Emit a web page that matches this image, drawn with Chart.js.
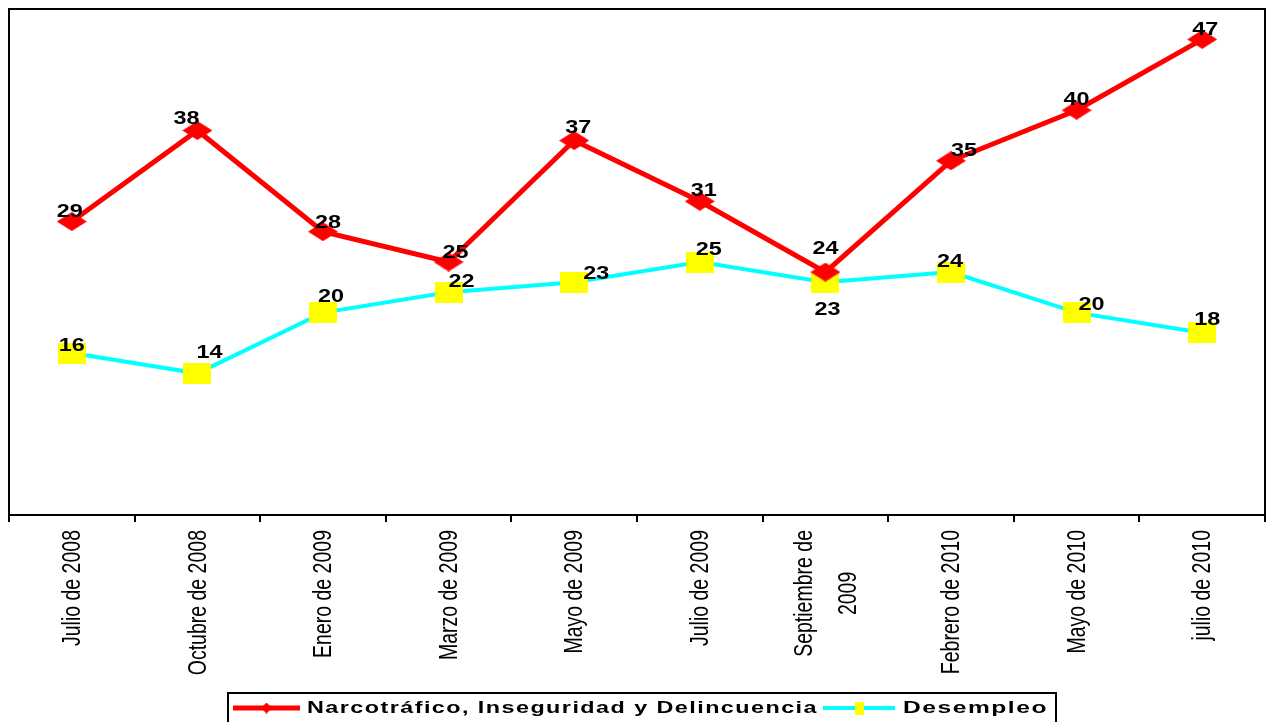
<!DOCTYPE html>
<html>
<head>
<meta charset="utf-8">
<script src="https://cdn.jsdelivr.net/npm/chart.js@4.4.0/dist/chart.umd.min.js"></script>
<style>
  html, body { margin: 0; padding: 0; background: #fff; }
</style>
</head>
<body>
<canvas id="grafica" width="1274" height="722"></canvas>
<script>
// datos
const categorias = ['Julio de 2008', 'Octubre de 2008', 'Enero de 2009', 'Marzo de 2009', 'Mayo de 2009',
  'Julio de 2009', ['Septiembre de', '2009'], 'Febrero de 2010', 'Mayo de 2010', 'julio de 2010'];
const narcotrafico = [29, 38, 28, 25, 37, 31, 24, 35, 40, 47];
const desempleo = [16, 14, 20, 22, 23, 25, 23, 24, 20, 18];
const nombres = ['Narcotráfico, Inseguridad y Delincuencia', 'Desempleo'];

// desplazamiento de las etiquetas respecto al punto (solo estilo)
const despRojo = [[-2, -10], [-11, -12], [5, -10], [7, -10], [4, -14], [4, -11], [0, -24], [13, -11], [0, -11], [3, -10]];
const despCyan = [[0, -8], [12, -21], [8, -17], [13, -11], [22, -9], [9, -13], [2, 27], [-1, -11], [15, -9], [5, -14]];

function marcador(forma, w, h, color) {
  const c = document.createElement('canvas');
  c.width = w; c.height = h;
  const g = c.getContext('2d');
  g.fillStyle = color;
  g.beginPath();
  if (forma === 'rombo') {
    g.moveTo(w / 2, 0); g.lineTo(w, h / 2); g.lineTo(w / 2, h); g.lineTo(0, h / 2);
  } else {
    g.rect(0, 0, w, h);
  }
  g.closePath();
  g.fill();
  return c;
}

const romboRojo = marcador('rombo', 30, 19, '#ff0000');
const cuadroAmarillo = marcador('cuadro', 28, 21, '#ffff00');

// marco del area de trazado
const marco = {
  id: 'marco',
  beforeDatasetsDraw(chart) {
    const a = chart.chartArea, ctx = chart.ctx;
    ctx.save();
    ctx.strokeStyle = '#000';
    ctx.lineWidth = 2;
    ctx.beginPath();
    ctx.moveTo(a.left, a.bottom);
    ctx.lineTo(a.left, a.top);
    ctx.lineTo(a.right, a.top);
    ctx.lineTo(a.right, a.bottom);
    ctx.stroke();
    ctx.restore();
  }
};

// etiquetas del eje x, en vertical y con letra estrecha
const etiquetasX = {
  id: 'etiquetasX',
  afterDraw(chart) {
    const ctx = chart.ctx, xs = chart.scales.x;
    const y0 = chart.chartArea.bottom + 15;
    ctx.save();
    ctx.fillStyle = '#000';
    ctx.font = '26px "Liberation Sans", Arial, sans-serif';
    ctx.textBaseline = 'middle';
    chart.data.labels.forEach((lab, i) => {
      const lineas = Array.isArray(lab) ? lab : [lab];
      const x = xs.getPixelForTick(i);
      const n = lineas.length;
      let largo = 0;
      lineas.forEach(t => { largo = Math.max(largo, ctx.measureText(t).width); });
      lineas.forEach((t, k) => {
        const cx = x + (k - (n - 1) / 2) * 44;
        ctx.save();
        ctx.translate(cx, y0);
        ctx.rotate(-Math.PI / 2);
        ctx.scale(0.75, 1);
        if (n > 1) {
          ctx.textAlign = 'center';
          ctx.fillText(t, -largo / 2, 1);
        } else {
          ctx.textAlign = 'right';
          ctx.fillText(t, 0, 1);
        }
        ctx.restore();
      });
    });
    ctx.restore();
  }
};

// etiquetas de valores
const etiquetas = {
  id: 'etiquetas',
  afterDatasetsDraw(chart) {
    const ctx = chart.ctx;
    const desps = [despRojo, despCyan];
    ctx.save();
    ctx.fillStyle = '#000';
    ctx.font = 'bold 18px "Liberation Sans", Arial, sans-serif';
    ctx.textAlign = 'center';
    ctx.textBaseline = 'middle';
    chart.data.datasets.forEach((ds, d) => {
      chart.getDatasetMeta(d).data.forEach((p, i) => {
        const dx = desps[d][i][0], dy = desps[d][i][1];
        ctx.save();
        ctx.translate(p.x + dx, p.y + dy);
        ctx.scale(1.3, 1);
        ctx.fillText(String(ds.data[i]), 0, 1);
        ctx.restore();
      });
    });
    ctx.restore();
  }
};

// leyenda con caja
const leyenda = {
  id: 'leyenda',
  afterDraw(chart) {
    const ctx = chart.ctx;
    const top = 693, left = 228, right = 1056;
    const cy = 708;
    ctx.save();
    ctx.strokeStyle = '#000';
    ctx.lineWidth = 2;
    ctx.strokeRect(left, top, right - left, 40);

    const items = [
      { x0: 233, x1: 300, color: '#ff0000', ancho: 5, marca: marcador('rombo', 11, 11, '#ff0000'), tx: 307, tw: 511 },
      { x0: 823, x1: 895, color: '#00ffff', ancho: 4, marca: marcador('cuadro', 9, 13, '#ffff00'), tx: 903, tw: 145 }
    ];
    items.forEach((it, k) => {
      ctx.strokeStyle = it.color;
      ctx.lineWidth = it.ancho;
      ctx.beginPath();
      ctx.moveTo(it.x0, cy);
      ctx.lineTo(it.x1, cy);
      ctx.stroke();
      const mx = (it.x0 + it.x1) / 2;
      ctx.drawImage(it.marca, mx - it.marca.width / 2, cy - it.marca.height / 2);

      ctx.fillStyle = '#000';
      ctx.font = 'bold 16px "Liberation Sans", Arial, sans-serif';
      ctx.letterSpacing = '1px';
      ctx.textAlign = 'left';
      ctx.textBaseline = 'middle';
      const texto = chart.data.datasets[k].label;
      const w = ctx.measureText(texto).width;
      ctx.save();
      ctx.translate(it.tx, cy + 1);
      ctx.scale(it.tw / w, 1);
      ctx.fillText(texto, 0, 0);
      ctx.restore();
    });
    ctx.restore();
  }
};

new Chart(document.getElementById('grafica').getContext('2d'), {
  type: 'line',
  data: {
    labels: categorias,
    datasets: [{
      label: nombres[0],
      data: narcotrafico,
      borderColor: '#ff0000',
      backgroundColor: '#ff0000',
      borderWidth: 5,
      pointStyle: romboRojo,
      tension: 0,
      clip: false
    }, {
      label: nombres[1],
      data: desempleo,
      borderColor: '#00ffff',
      backgroundColor: '#ffff00',
      borderWidth: 4,
      pointStyle: cuadroAmarillo,
      tension: 0,
      clip: false
    }]
  },
  options: {
    responsive: false,
    animation: false,
    devicePixelRatio: 1,
    layout: { padding: { left: 7, right: 4, top: 7, bottom: 7 } },
    plugins: {
      legend: { display: false },
      tooltip: { enabled: false }
    },
    scales: {
      x: {
        offset: true,
        grid: { display: true, drawOnChartArea: false, drawTicks: true, tickLength: 7, color: '#000', lineWidth: 2, offset: true },
        border: { display: true, color: '#000', width: 2 },
        ticks: { display: false, autoSkip: false },
        afterFit(s) { s.height = 200; }
      },
      y: { display: false, min: 0, max: 50 }
    }
  },
  plugins: [marco, etiquetas, etiquetasX, leyenda]
});
</script>
</body>
</html>
